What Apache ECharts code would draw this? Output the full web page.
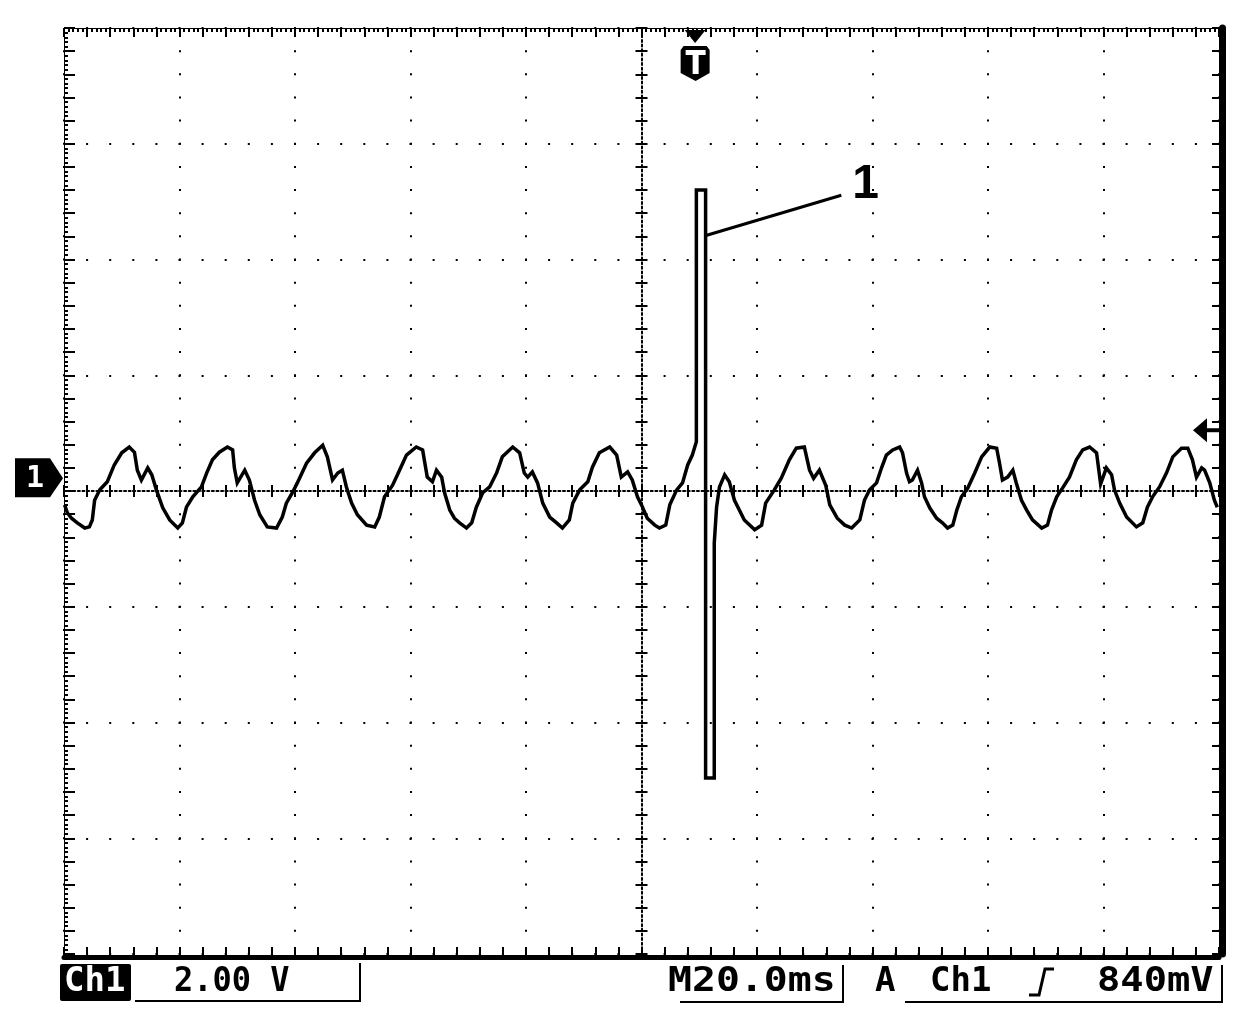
<!DOCTYPE html>
<html>
<head>
<meta charset="utf-8">
<script src="https://cdn.jsdelivr.net/npm/echarts@6/dist/echarts.min.js"></script>
<style>
html,body{margin:0;padding:0;background:#fff;}
#scope{width:1248px;height:1020px;}
</style>
</head>
<body>
<div id="scope"></div>
<script>
// trace: time from screen centre (ms), volts
var traceTime = [
  -99.9,-99.4,-98.7,-97.7,-96.4,-95.6,-95.1,-94.7,-93.8,-92.5,-91.3,-90.0,-88.7,-87.8,-87.3,-86.6,-85.5,-84.8,-84.0,-82.9,-81.7,-80.3,-79.5,
  -78.8,-77.7,-76.2,-75.3,-74.3,-73.1,-71.7,-70.8,-70.5,-70.0,-68.7,-67.9,-67.0,-66.1,-64.8,-63.2,-62.2,-61.5,-60.4,-59.6,-58.0,-56.6,
  -55.2,-54.4,-53.5,-52.6,-51.8,-51.1,-50.2,-49.2,-47.6,-46.2,-45.4,-44.5,-43.1,-41.9,-40.7,-39.0,-37.9,-37.1,-36.2,-35.5,-34.6,-34.1,
  -33.2,-32.4,-31.5,-30.3,-29.4,-28.6,-27.5,-26.3,-25.1,-24.1,-22.3,-21.1,-20.3,-19.7,-18.9,-18.0,-17.1,-15.9,-14.7,-13.7,-12.5,-11.9,
  -10.7,-9.3,-8.5,-7.3,-5.5,-4.3,-3.5,-2.4,-1.6,-0.7,0.0,1.0,2.3,3.1,4.2,4.9,6.1,7.1,8.0,8.8,9.5,
  9.5,11.1,11.1,12.6,12.6,
  13.0,13.5,14.4,15.2,16.1,17.8,19.6,20.8,21.5,23.0,24.2,25.6,26.8,28.2,29.1,29.8,30.8,31.9,32.6,33.9,35.2,36.4,37.8,38.6,
  39.5,40.7,41.6,42.4,43.5,44.7,45.2,45.9,46.4,46.9,47.8,48.5,49.0,49.9,51.1,52.1,53.0,53.9,54.6,55.4,56.5,57.7,58.9,60.3,
  61.5,62.0,62.5,63.4,64.3,64.9,65.8,66.7,67.7,69.3,70.3,71.0,71.9,72.9,74.1,75.3,76.4,77.6,78.8,79.5,80.5,81.4,81.9,82.8,
  84.0,85.7,86.8,87.6,88.5,89.7,90.9,92.0,93.5,94.6,95.4,96.1,97.0,97.5,98.4,99.2,99.7
];
var traceVolt = [
  -0.24,-0.38,-0.47,-0.55,-0.64,-0.62,-0.50,-0.16,0.02,0.16,0.45,0.66,0.76,0.67,0.36,0.19,0.40,0.28,0.02,-0.29,-0.50,-0.64,-0.55,
  -0.28,-0.10,0.07,0.31,0.54,0.67,0.76,0.71,0.40,0.14,0.36,0.19,-0.16,-0.41,-0.62,-0.64,-0.45,-0.21,-0.02,0.14,0.48,0.66,
  0.79,0.59,0.19,0.31,0.36,0.07,-0.21,-0.41,-0.59,-0.62,-0.45,-0.10,0.10,0.36,0.62,0.76,0.71,0.24,0.16,0.36,0.24,-0.03,
  -0.33,-0.47,-0.55,-0.64,-0.55,-0.28,-0.03,0.07,0.31,0.59,0.76,0.66,0.31,0.24,0.33,0.14,-0.21,-0.45,-0.55,-0.64,-0.50,-0.21,
  0.02,0.16,0.41,0.66,0.76,0.62,0.24,0.33,0.19,-0.10,-0.24,-0.47,-0.59,-0.64,-0.59,-0.24,0.02,0.14,0.45,0.62,0.85,
  5.20,5.20,-4.96,-4.96,-0.90,
  -0.28,0.07,0.28,0.16,-0.16,-0.50,-0.67,-0.59,-0.21,0.02,0.22,0.54,0.74,0.76,0.36,0.22,0.36,0.10,-0.24,-0.47,-0.59,-0.64,-0.50,-0.16,
  0.02,0.14,0.41,0.62,0.71,0.76,0.66,0.31,0.16,0.19,0.36,0.14,-0.10,-0.29,-0.47,-0.55,-0.64,-0.59,-0.33,-0.10,0.05,0.31,0.59,0.76,
  0.74,0.48,0.19,0.24,0.36,0.14,-0.16,-0.33,-0.50,-0.64,-0.59,-0.33,-0.10,0.05,0.24,0.54,0.71,0.76,0.66,0.12,0.40,0.28,0.02,-0.21,
  -0.45,-0.62,-0.55,-0.28,-0.10,0.07,0.31,0.59,0.74,0.74,0.54,0.24,0.40,0.36,0.14,-0.16,-0.28
];

// screen scale: 10 x 20 ms, 8 x 2 V
var timeRange = [-100, 100], msPerDiv = 20;
var voltRange = [-8, 8], voltsPerDiv = 2;

// markers / annotations
var triggerTime = 9.2;
var triggerArrowVolt = 1.05;
var chMarkerVolt = 0.22;
var spikeLeader = [[11.3, 4.42], [34.6, 5.11]];
var spikeLabelAt = [38.8, 5.29];
var spikeLabel = '1';

// status line texts
var stCh = 'Ch1', stScale = '2.00 V', stTime = 'M20.0ms';
var stTrig = ['A', 'Ch1', '840mV'];

var BLACK = '#000';
var monoFont = '"DejaVu Sans Mono", monospace';

function tk(w){ return {color: BLACK, width: w || 2}; }

function xAx(o){
  return Object.assign({type:'value', min:timeRange[0], max:timeRange[1], interval:msPerDiv,
    axisLabel:{show:false}, splitLine:{show:false}, axisTick:{show:false}, axisLine:{show:false, onZero:false}}, o);
}
function yAx(o){
  return Object.assign({type:'value', min:voltRange[0], max:voltRange[1], interval:voltsPerDiv,
    axisLabel:{show:false}, splitLine:{show:false}, axisTick:{show:false}, axisLine:{show:false, onZero:false}}, o);
}

var chart = echarts.init(document.getElementById('scope'), null, {renderer:'canvas'});

var option = {
  animation: false,
  backgroundColor: '#fff',
  grid: {left: 64, top: 28, width: 1155, height: 926, containLabel: false, outerBoundsMode: 'none'},
  xAxis: [
    // bottom edge (thick) + dotted verticals
    xAx({position:'bottom', offset:3,
      axisLine:{show:true, onZero:false, lineStyle:{color:BLACK, width:5}},
      axisTick:{show:true, inside:true, length:10, lineStyle:tk(2)},
      minorTick:{show:true, splitNumber:5, length:10, lineStyle:tk(2)},
      splitLine:{show:true, lineStyle:{color:BLACK, width:2, type:[2, 21.15], dashOffset:1}}}),
    // top edge, fine ticks
    xAx({position:'top',
      axisLine:{show:true, onZero:false, lineStyle:{color:BLACK, width:1}},
      axisTick:{show:true, inside:true, length:9, lineStyle:tk(2)},
      minorTick:{show:true, splitNumber:25, length:4, lineStyle:tk(2)}}),
    xAx({position:'top', axisTick:{show:false, inside:true},
      minorTick:{show:true, splitNumber:5, length:9, lineStyle:tk(2)}}),
    // centre horizontal
    xAx({position:'bottom',
      axisLine:{show:true, onZero:true, onZeroAxisIndex:0, lineStyle:{color:BLACK, width:2, type:[2, 2.62]}},
      axisTick:{show:true, inside:true, length:6, lineStyle:tk(2)},
      minorTick:{show:true, splitNumber:5, length:6, lineStyle:tk(2)}}),
    xAx({position:'bottom',
      axisLine:{show:false, onZero:true, onZeroAxisIndex:0},
      axisTick:{show:true, inside:false, length:6, lineStyle:tk(2)},
      minorTick:{show:true, splitNumber:5, length:6, lineStyle:tk(2)}})
  ],
  yAxis: [
    // left edge + dotted horizontals
    yAx({position:'left',
      axisLine:{show:true, onZero:false, lineStyle:{color:BLACK, width:1}},
      axisTick:{show:true, inside:true, length:11, lineStyle:tk(2)},
      minorTick:{show:true, splitNumber:5, length:11, lineStyle:tk(2)},
      splitLine:{show:true, lineStyle:{color:BLACK, width:2, type:[2, 21.1], dashOffset:1}}}),
    yAx({position:'left', axisTick:{show:false, inside:true},
      minorTick:{show:true, splitNumber:25, length:4, lineStyle:tk(2)}}),
    // right edge (thick)
    yAx({position:'right', offset:3,
      axisLine:{show:true, onZero:false, lineStyle:{color:BLACK, width:7}},
      axisTick:{show:true, inside:true, length:10, lineStyle:tk(2)},
      minorTick:{show:true, splitNumber:5, length:10, lineStyle:tk(2)}}),
    // centre vertical
    yAx({position:'left',
      axisLine:{show:true, onZero:true, onZeroAxisIndex:0, lineStyle:{color:BLACK, width:2, type:[2, 2.63]}},
      axisTick:{show:true, inside:true, length:6, lineStyle:tk(2)},
      minorTick:{show:true, splitNumber:5, length:6, lineStyle:tk(2)}}),
    yAx({position:'left',
      axisLine:{show:false, onZero:true, onZeroAxisIndex:0},
      axisTick:{show:true, inside:false, length:6, lineStyle:tk(2)},
      minorTick:{show:true, splitNumber:5, length:6, lineStyle:tk(2)}})
  ],
  series: [{
    name: 'CH1',
    type: 'line',
    xAxisIndex: 0,
    yAxisIndex: 0,
    showSymbol: false,
    symbol: 'none',
    silent: true,
    z: 10,
    lineStyle: {color: BLACK, width: 3.5, join: 'miter'},
    data: traceTime.map(function(t, i){ return [t, traceVolt[i]]; })
  }]
};
chart.setOption(option);

// annotations placed through the axes
function px(p){ return chart.convertToPixel({xAxisIndex:0, yAxisIndex:0}, p); }
var l0 = px(spikeLeader[0]), l1 = px(spikeLeader[1]);
var lab = px(spikeLabelAt);
var trigX = px([triggerTime, 0])[0];
var arrowY = px([0, triggerArrowVolt])[1];
var chY = px([0, chMarkerVolt])[1];

function txt(s, x, y, size, color, align, sx){
  return {type:'text', x:x, y:y, z:20, scaleX: sx || 1, style:{text:s, font:'bold ' + size + 'px ' + monoFont,
    fill:color || BLACK, align:align || 'left', verticalAlign:'top'}};
}
function seg(x1, y1, x2, y2, w){
  return {type:'line', z:20, shape:{x1:x1, y1:y1, x2:x2, y2:y2}, style:{stroke:BLACK, lineWidth:w || 2}};
}

var g = [
  // spike label
  seg(l0[0], l0[1], l1[0], l1[1], 3),
  {type:'text', x:lab[0], y:lab[1], z:20, style:{text:spikeLabel, font:'bold 48px "Liberation Sans", Arial, sans-serif',
    fill:BLACK, align:'center', verticalAlign:'middle'}},
  // trigger position marker
  {type:'polygon', z:20, shape:{points:[[trigX-10,30],[trigX+11,30],[trigX+0.5,43]]}, style:{fill:BLACK}},
  {type:'polygon', z:20, shape:{points:[[trigX-14,50],[trigX-11,46],[trigX+12,46],[trigX+15,50],[trigX+15,73],[trigX+1,81],[trigX-14,73]]}, style:{fill:BLACK}},
  {type:'rect', z:21, shape:{x:trigX-9, y:50, width:20, height:5}, style:{fill:'#fff'}},
  {type:'rect', z:21, shape:{x:trigX-2, y:55, width:6, height:19}, style:{fill:'#fff'}},
  // trigger level arrow
  {type:'polygon', z:20, shape:{points:[[1193,arrowY],[1207,arrowY-12],[1207,arrowY+12]]}, style:{fill:BLACK}},
  {type:'rect', z:20, shape:{x:1206, y:arrowY-2, width:13, height:4}, style:{fill:BLACK}},
  // channel 1 marker
  {type:'polygon', z:20, shape:{points:[[15,chY-20],[50,chY-20],[63,chY],[50,chY+19],[15,chY+19]]}, style:{fill:BLACK}},
  txt('1', 35, chY-14, 30, '#fff', 'center'),
  // status line
  {type:'rect', z:20, shape:{x:60, y:964, width:71, height:37, r:2}, style:{fill:BLACK}},
  txt(stCh, 64, 965, 34, '#fff'),
  txt(stScale, 174, 965, 34, BLACK, 'left', 0.94),
  seg(135, 1001, 361, 1001, 2), seg(360, 963, 360, 1002, 2),
  txt(stTime, 668, 965, 34, BLACK, 'left', 1.17),
  seg(680, 1002, 844, 1002, 2), seg(843, 965, 843, 1003, 2),
  txt(stTrig[0], 875, 965, 34),
  txt(stTrig[1], 930, 965, 34),
  {type:'polyline', z:20, shape:{points:[[1029,995],[1039,995],[1045,969],[1054,969]]}, style:{stroke:BLACK, lineWidth:3, fill:null}},
  txt(stTrig[2], 1097, 965, 34, BLACK, 'left', 1.14),
  seg(905, 1002, 1223, 1002, 2), seg(1222, 965, 1222, 1003, 2)
];
chart.setOption({graphic: {elements: g}});
</script>
</body>
</html>
